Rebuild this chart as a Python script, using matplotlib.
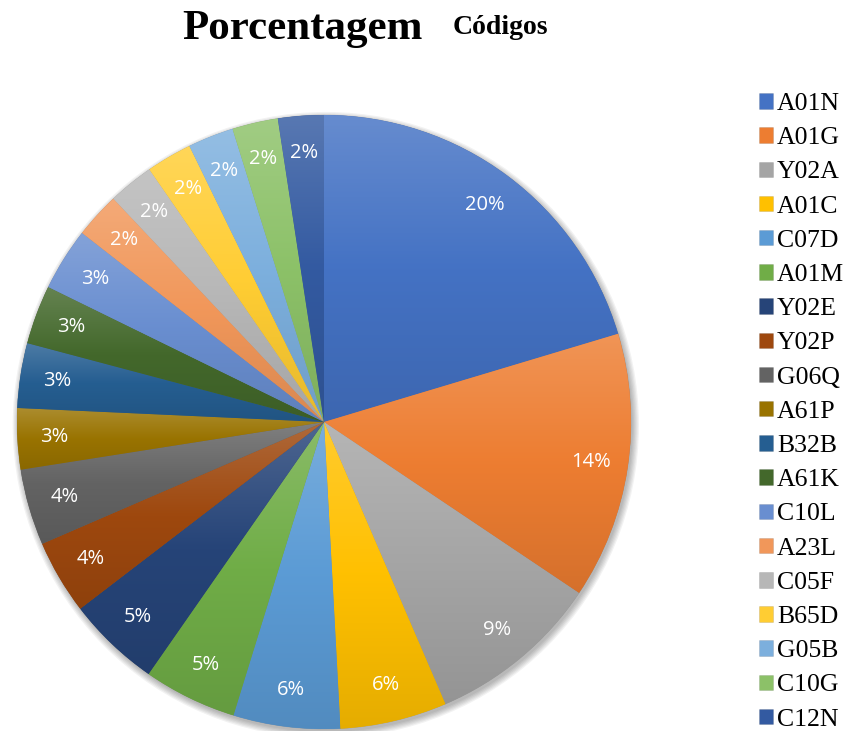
import numpy as np
import matplotlib.pyplot as plt
from matplotlib.colors import to_rgb
from matplotlib.patches import Circle

codes = ["A01N", "A01G", "Y02A", "A01C", "C07D", "A01M", "Y02E", "Y02P", "G06Q", "A61P",
         "B32B", "A61K", "C10L", "A23L", "C05F", "B65D", "G05B", "C10G", "C12N"]
shares = [20.3, 14.0, 9.1, 5.6, 5.6, 4.9, 4.9, 3.9, 4.0, 3.2,
          3.4, 3.1, 3.3, 2.4, 2.4, 2.4, 2.4, 2.4, 2.4]
colors = ["#4472C4", "#ED7D31", "#A5A5A5", "#FFC000", "#5B9BD5", "#70AD47", "#264478",
          "#9E480E", "#636363", "#997300", "#255E91", "#43682B", "#698ED0", "#F1975A",
          "#B7B7B7", "#FFCD33", "#7CAFDD", "#8CC168", "#335AA1"]

fig = plt.figure(figsize=(8.53, 7.31), dpi=100)
ax = fig.add_axes([17 / 853, 2 / 731, 614 / 853, 614 / 731])

# soft shadow under the pie
for k in range(6):
    ax.add_patch(Circle((0.006, -0.01), 1.0 + 0.004 * k, color="black",
                        alpha=0.05, lw=0, zorder=0, clip_on=False))

wedges, texts, autotexts = ax.pie(
    shares, colors=colors, startangle=90, counterclock=False,
    autopct="%.0f%%", pctdistance=0.88,
    wedgeprops=dict(edgecolor="#00000022", linewidth=0.5),
    textprops=dict(color="white", fontsize=14.5, family="Open Sans", zorder=5),
)

# Excel style vertical gradient inside each slice
for w, c in zip(wedges, colors):
    base = np.array(to_rgb(c))
    top = base + (1 - base) * 0.18
    bottom = base * 0.9
    t = np.linspace(0, 1, 64)[:, None]
    grad = np.where(t < 0.5, top + (base - top) * (t / 0.5), base + (bottom - base) * ((t - 0.5) / 0.5))
    ext = w.get_path().get_extents()
    im = ax.imshow(grad[:, None, :], extent=[ext.x0, ext.x1, ext.y0, ext.y1],
                   aspect="auto", zorder=2, interpolation="bilinear")
    im.set_clip_path(w)

ax.set_aspect("equal")
ax.set_xlim(-1, 1)
ax.set_ylim(-1, 1)
ax.axis("off")

fig.text(302 / 853, 1 - 29 / 731, "Porcentagem", ha="center", va="center",
         family="Liberation Serif", fontweight="bold", fontsize=31)
fig.text(500 / 853, 1 - 28 / 731, "Códigos", ha="center", va="center",
         family="Liberation Serif", fontweight="bold", fontsize=20)

fig.legend(wedges, codes, loc="upper left", bbox_to_anchor=(759 / 853, 1 - 93 / 731),
           frameon=False, prop=dict(family="Liberation Serif", size=18.5),
           handlelength=0.55, handleheight=0.55, handletextpad=0.15, labelspacing=0.475,
           borderaxespad=0, borderpad=0)

fig.savefig("out.png", dpi=100)
